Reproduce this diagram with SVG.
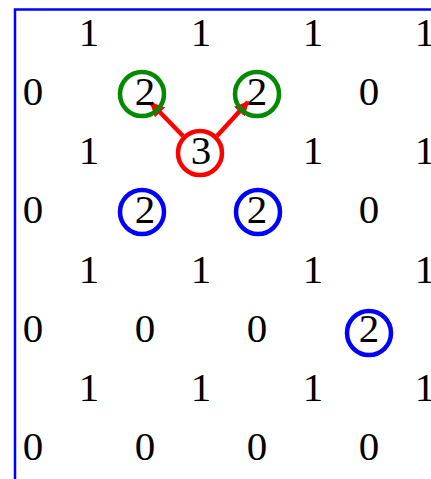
<svg xmlns="http://www.w3.org/2000/svg" width="431" height="479" viewBox="0 0 431 479">
<style>
text{font-family:"Liberation Serif","Times New Roman",serif;font-size:41px;fill:#000;text-anchor:middle}
.ring{fill:none;stroke-width:4.5}
.g{stroke:#008a00}
.r{stroke:#ff0000}
.b{stroke:#0000ff}
.arrow{stroke:#ff0000;stroke-width:4.5;fill:none;marker-end:url(#ah)}
</style>
<defs>
<marker id="ah" viewBox="0 0 10 10" refX="9" refY="5" markerWidth="3.2" markerHeight="3.2" orient="auto" markerUnits="strokeWidth">
<path d="M0,0 L10,5 L0,10 z" fill="#ff0000"/>
</marker>
</defs>
<rect x="15" y="9.5" width="500" height="500" fill="none" stroke="#0000ff" stroke-width="2.5"/>
<g id="numbers">
<text x="89" y="46">1</text><text x="201" y="46">1</text><text x="313" y="46">1</text><text x="425" y="46">1</text>
<text x="33" y="105">0</text><text x="369" y="105">0</text>
<text x="89" y="164">1</text><text x="313" y="164">1</text><text x="425" y="164">1</text>
<text x="33" y="223">0</text><text x="369" y="223">0</text>
<text x="89" y="283">1</text><text x="201" y="283">1</text><text x="313" y="283">1</text><text x="425" y="283">1</text>
<text x="33" y="342">0</text><text x="145" y="342">0</text><text x="257" y="342">0</text>
<text x="89" y="401">1</text><text x="201" y="401">1</text><text x="313" y="401">1</text><text x="425" y="401">1</text>
<text x="33" y="460">0</text><text x="145" y="460">0</text><text x="257" y="460">0</text><text x="369" y="460">0</text>
</g>
<g id="connectors">
<path class="arrow" d="M183,136 L151,103"/>
<path class="arrow" d="M217,136 L248,102"/>
</g>
<g id="green1"><circle class="ring g" cx="142" cy="94" r="22"/><text x="145" y="105">2</text></g>
<g id="green2"><circle class="ring g" cx="257" cy="94" r="22"/><text x="257" y="105">2</text></g>
<g id="red3"><circle class="ring r" cx="200" cy="153" r="22"/><text x="201" y="164">3</text></g>
<g id="blue1"><circle class="ring b" cx="142" cy="212" r="22"/><text x="145" y="223">2</text></g>
<g id="blue2"><circle class="ring b" cx="258" cy="212" r="22"/><text x="257" y="223">2</text></g>
<g id="blue3"><circle class="ring b" cx="369" cy="333" r="22"/><text x="369" y="342">2</text></g>
</svg>
